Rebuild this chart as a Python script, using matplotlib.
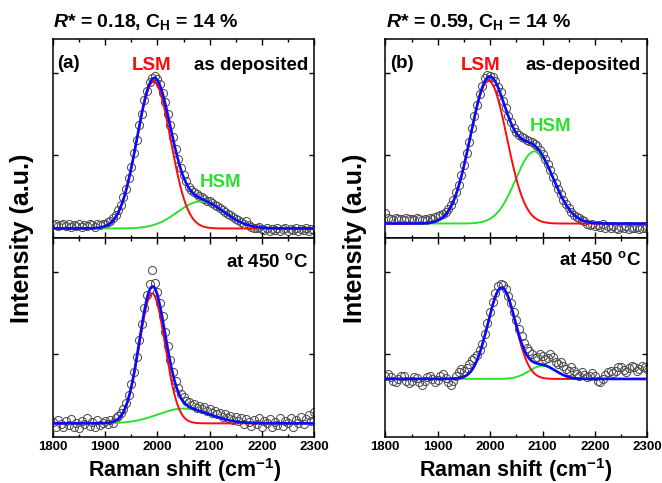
import numpy as np
import matplotlib
matplotlib.use("Agg")
import matplotlib.pyplot as plt
from matplotlib.ticker import MultipleLocator, FixedLocator, NullFormatter

# ---------------- data ----------------
shift = np.arange(1800, 2301, 5)   # sampling grid of the plotted spectra (cm^-1)

a_dep = [0.15, 0.16, 0.14, 0.15, 0.17, 0.14, 0.16, 0.13, 0.15, 0.14,
         0.16, 0.13, 0.15, 0.14, 0.16, 0.15, 0.13, 0.16, 0.15, 0.17,
         0.16, 0.19, 0.20, 0.24, 0.27, 0.33, 0.40, 0.49, 0.59, 0.73,
         0.86, 1.03, 1.19, 1.37, 1.50, 1.68, 1.79, 1.90, 1.95, 1.97,
         1.93, 1.87, 1.76, 1.65, 1.50, 1.37, 1.22, 1.08, 0.96, 0.85,
         0.76, 0.69, 0.62, 0.58, 0.55, 0.53, 0.50, 0.49, 0.47, 0.45,
         0.44, 0.42, 0.40, 0.38, 0.36, 0.33, 0.31, 0.29, 0.27, 0.25,
         0.23, 0.21, 0.19, 0.17, 0.20, 0.15, 0.13, 0.12, 0.11, 0.13,
         0.10, 0.09, 0.12, 0.08, 0.10, 0.09, 0.12, 0.08, 0.10, 0.11,
         0.08, 0.10, 0.09, 0.11, 0.08, 0.10, 0.09, 0.11, 0.08, 0.10,
         0.09]

b_dep = [0.30, 0.24, 0.22, 0.21, 0.24, 0.22, 0.23, 0.21, 0.24, 0.22,
         0.23, 0.21, 0.24, 0.22, 0.21, 0.23, 0.21, 0.24, 0.23, 0.25,
         0.26, 0.27, 0.29, 0.31, 0.35, 0.40, 0.46, 0.55, 0.64, 0.76,
         0.88, 1.03, 1.17, 1.33, 1.48, 1.61, 1.75, 1.85, 1.94, 1.98,
         1.97, 1.96, 1.91, 1.84, 1.77, 1.67, 1.58, 1.48, 1.41, 1.34,
         1.29, 1.25, 1.22, 1.21, 1.19, 1.18, 1.16, 1.14, 1.11, 1.07,
         1.02, 0.96, 0.89, 0.82, 0.74, 0.66, 0.59, 0.53, 0.46, 0.41,
         0.36, 0.31, 0.28, 0.25, 0.24, 0.21, 0.20, 0.17, 0.15, 0.16,
         0.14, 0.15, 0.13, 0.16, 0.12, 0.14, 0.11, 0.14, 0.12, 0.10,
         0.13, 0.11, 0.14, 0.10, 0.12, 0.11, 0.13, 0.10, 0.12, 0.11,
         0.14]

a_450 = [0.18, 0.12, 0.20, 0.15, 0.11, 0.19, 0.14, 0.21, 0.12, 0.17,
         0.10, 0.19, 0.15, 0.22, 0.13, 0.18, 0.11, 0.20, 0.14, 0.17,
         0.19, 0.15, 0.20, 0.16, 0.22, 0.25, 0.28, 0.33, 0.41, 0.50,
         0.64, 0.79, 0.97, 1.17, 1.37, 1.56, 1.72, 1.85, 2.02, 1.87,
         1.76, 1.62, 1.47, 1.27, 1.10, 0.93, 0.79, 0.68, 0.59, 0.52,
         0.48, 0.43, 0.42, 0.38, 0.40, 0.35, 0.37, 0.33, 0.36, 0.31,
         0.33, 0.29, 0.31, 0.27, 0.29, 0.24, 0.27, 0.23, 0.25, 0.20,
         0.24, 0.19, 0.23, 0.15, 0.21, 0.18, 0.13, 0.20, 0.15, 0.22,
         0.12, 0.19, 0.16, 0.21, 0.11, 0.18, 0.14, 0.22, 0.13, 0.19,
         0.16, 0.23, 0.12, 0.20, 0.17, 0.24, 0.15, 0.21, 0.26, 0.19,
         0.30]

b_450 = [0.74, 0.76, 0.72, 0.67, 0.66, 0.70, 0.74, 0.73, 0.68, 0.65,
         0.67, 0.72, 0.71, 0.66, 0.63, 0.67, 0.72, 0.74, 0.70, 0.66,
         0.69, 0.74, 0.76, 0.71, 0.66, 0.63, 0.68, 0.74, 0.79, 0.82,
         0.80, 0.83, 0.88, 0.93, 0.95, 0.99, 1.05, 1.13, 1.25, 1.38,
         1.51, 1.63, 1.75, 1.83, 1.85, 1.84, 1.79, 1.71, 1.62, 1.52,
         1.42, 1.31, 1.22, 1.14, 1.08, 1.04, 1.00, 0.96, 0.97, 1.00,
         0.98, 0.94, 0.96, 1.00, 0.97, 0.91, 0.88, 0.90, 0.86, 0.82,
         0.80, 0.84, 0.80, 0.76, 0.74, 0.78, 0.75, 0.72, 0.73, 0.77,
         0.74, 0.68, 0.66, 0.70, 0.75, 0.79, 0.80, 0.77, 0.80, 0.84,
         0.85, 0.81, 0.79, 0.83, 0.86, 0.84, 0.80, 0.82, 0.86, 0.84,
         0.82]

# fitted components: baseline, (centre, height, FWHM) for LSM and HSM
fit_baseline = [0.11, 0.17, 0.16, 0.70]
lsm_centre = [1993, 1997, 1990, 2022]
lsm_height = [1.79, 1.74, 1.58, 1.11]
lsm_fwhm = [76, 82, 58, 62]
hsm_centre = [2083, 2085, 2050, 2100]
hsm_height = [0.33, 0.88, 0.18, 0.16]
hsm_fwhm = [105, 86, 115, 60]

spectra = [a_dep, b_dep, a_450, b_450]
titles = [r"$R$* = 0.18, C$_\mathregular{H}$ = 14 %", r"$R$* = 0.59, C$_\mathregular{H}$ = 14 %"]
x_ticks = [1800, 1900, 2000, 2100, 2200, 2300]

# ---------------- style ----------------
plt.rcParams['font.family'] = ['Liberation Sans', 'DejaVu Sans']
plt.rcParams['font.weight'] = 'bold'
plt.rcParams['mathtext.fontset'] = 'custom'
plt.rcParams['mathtext.rm'] = 'Liberation Sans:bold'
plt.rcParams['mathtext.it'] = 'Liberation Sans:italic:bold'
plt.rcParams['mathtext.bf'] = 'Liberation Sans:bold'

W, H = 662, 483
fig = plt.figure(figsize=(W / 100, H / 100), dpi=100)

def px(x, y):
    return x / W, 1 - y / H

def add_axes(x0, x1, y0, y1):
    return fig.add_axes([x0 / W, 1 - y1 / H, (x1 - x0) / W, (y1 - y0) / H])

cols = [(53, 314), (385.3, 647.3)]
rows = [(39, 237.5), (237.5, 436.5)]

BLUE = '#0a0aff'
RED = '#ff0a0a'
GREEN = '#2ee02e'

def gauss(x, c, h, w):
    s = w / 2.3548
    return h * np.exp(-0.5 * ((x - c) / s) ** 2)

xf = np.linspace(1800, 2300, 1001)
for r in range(2):
    for c in range(2):
        i = r * 2 + c
        ax = add_axes(cols[c][0], cols[c][1], rows[r][0], rows[r][1])
        ax.plot(shift, spectra[i], 'o', ms=5.8, mfc='none', mec='#505050', mew=0.75, zorder=1)
        b = fit_baseline[i]
        l = gauss(xf, lsm_centre[i], lsm_height[i], lsm_fwhm[i])
        hh = gauss(xf, hsm_centre[i], hsm_height[i], hsm_fwhm[i])
        ax.plot(xf, b + hh, color=GREEN, lw=1.4, zorder=2)
        ax.plot(xf, b + l, color=RED, lw=1.4, zorder=3)
        ax.plot(xf, b + l + hh, color=BLUE, lw=1.9, zorder=4)
        ax.set_xlim(1800, 2300)
        ax.set_ylim(0, 2.42)
        ax.xaxis.set_major_locator(FixedLocator(x_ticks))
        ax.xaxis.set_minor_locator(MultipleLocator(50))
        ax.yaxis.set_major_locator(FixedLocator([1, 2]))
        ax.yaxis.set_major_formatter(NullFormatter())
        ax.tick_params(which='both', direction='in', top=True, right=True, width=1.0)
        ax.tick_params(which='major', axis='x', length=4.3)
        ax.tick_params(which='minor', axis='x', length=2.3)
        ax.tick_params(which='major', axis='y', length=3.5)
        ax.tick_params(axis='x', labelsize=9.5, pad=3.5)
        for s in ax.spines.values():
            s.set_linewidth(1.1)
        if r == 0:
            ax.xaxis.set_major_formatter(NullFormatter())
        else:
            for lab in ax.get_xticklabels():
                lab.set_fontweight('bold')

# ---------------- texts ----------------
fs = 13.5
fig.text(*px(53, 27), titles[0], fontsize=14, ha='left', va='baseline')
fig.text(*px(386, 27), titles[1], fontsize=14, ha='left', va='baseline')

fig.text(*px(57, 68), '(a)', fontsize=fs, ha='left', va='baseline')
fig.text(*px(152, 70), 'LSM', fontsize=fs, ha='center', va='baseline', color=RED)
fig.text(*px(308, 70), 'as deposited', fontsize=fs, ha='right', va='baseline')
fig.text(*px(221, 187), 'HSM', fontsize=fs, ha='center', va='baseline', color=GREEN)
fig.text(*px(308, 267), r'at 450 $^\mathregular{o}$C', fontsize=fs, ha='right', va='baseline')

fig.text(*px(390, 68), '(b)', fontsize=fs, ha='left', va='baseline')
fig.text(*px(481, 70), 'LSM', fontsize=fs, ha='center', va='baseline', color=RED)
fig.text(*px(641, 70), 'as-deposited', fontsize=fs, ha='right', va='baseline')
fig.text(*px(551, 131), 'HSM', fontsize=fs, ha='center', va='baseline', color=GREEN)
fig.text(*px(641, 265), r'at 450 $^\mathregular{o}$C', fontsize=fs, ha='right', va='baseline')

for xc in (22, 355):
    fig.text(*px(xc, 238), 'Intensity (a.u.)', fontsize=18, rotation=90, ha='center', va='center')
for xc in (185, 516):
    fig.text(*px(xc, 476.5), r'Raman shift (cm$^\mathregular{-1}$)', fontsize=15.5, ha='center', va='baseline')

fig.savefig('out.png', dpi=100)
